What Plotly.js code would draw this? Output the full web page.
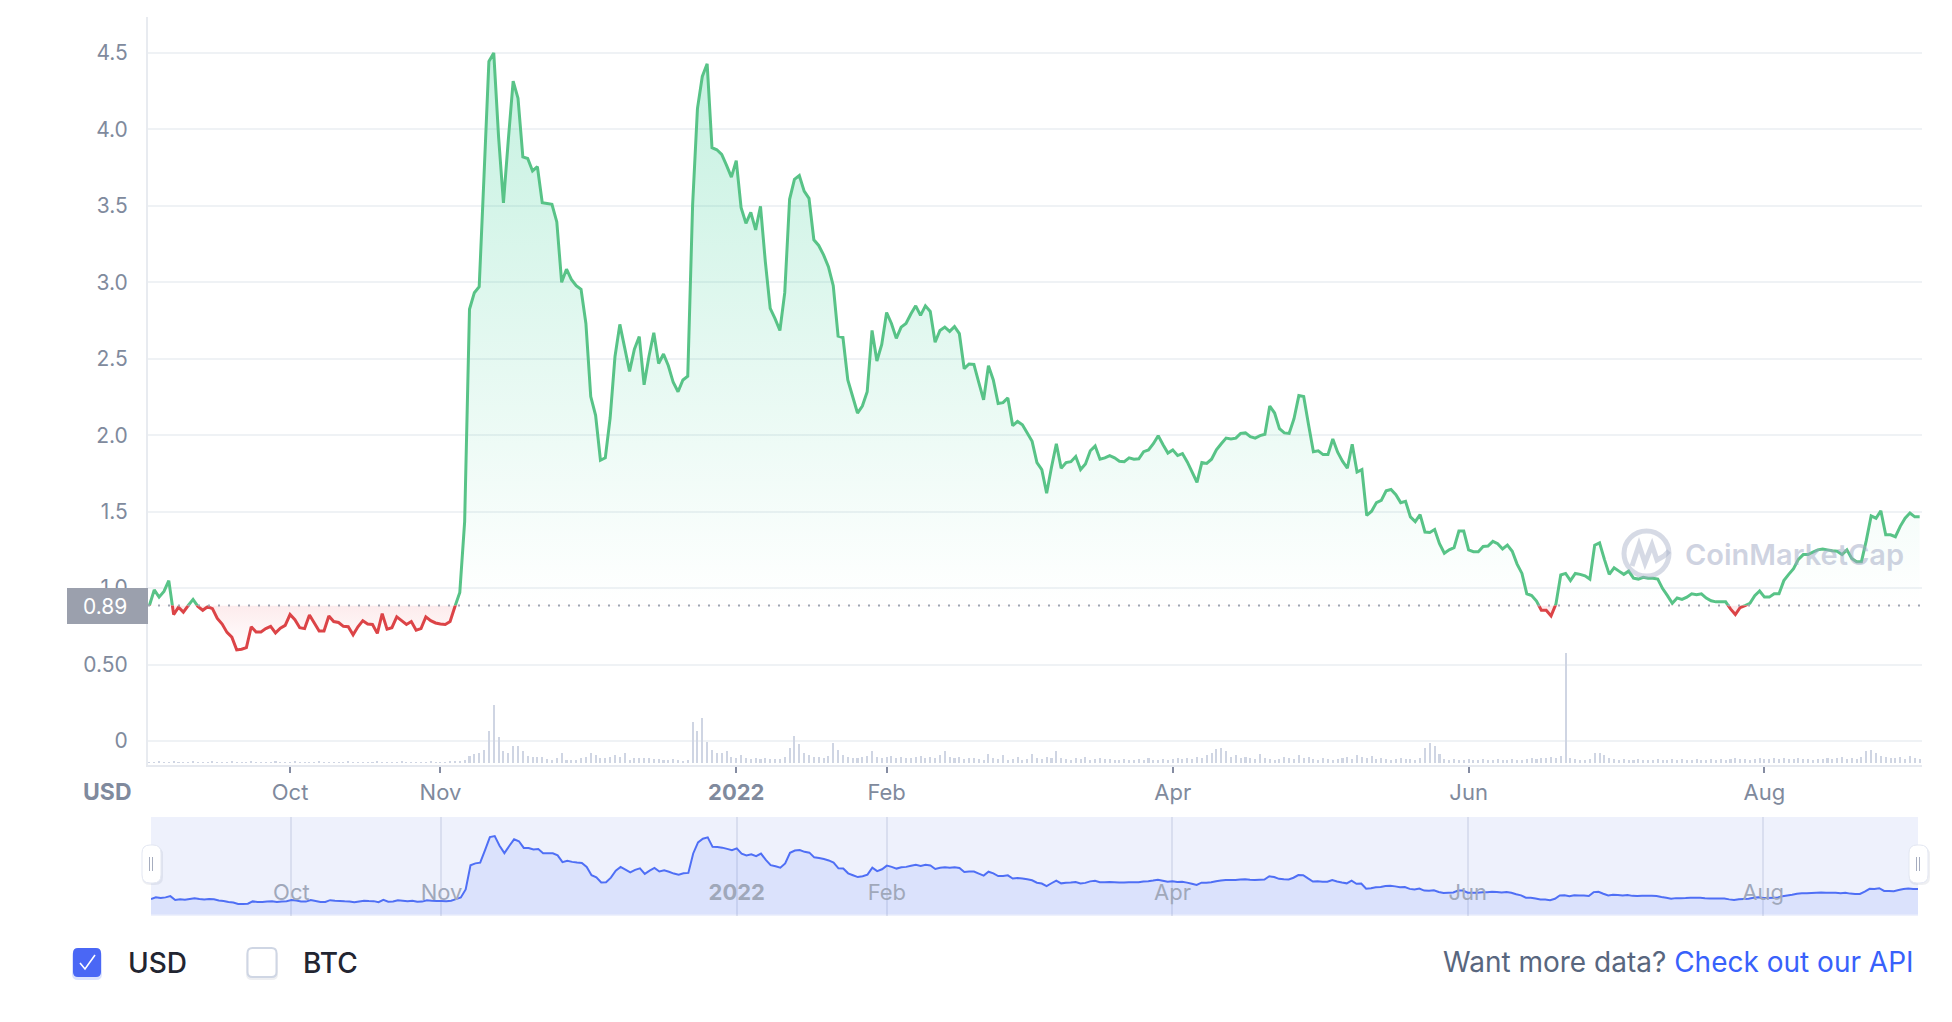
<!DOCTYPE html>
<html>
<head>
<meta charset="utf-8">
<script src="https://cdn.plot.ly/plotly-3.0.1.min.js"></script>
<style>
  html, body { margin: 0; padding: 0; background: #ffffff; }
  #chart { width: 1952px; height: 1022px; }
</style>
</head>
<body>
<div id="chart"></div>
<script>
// ---------------- DATA ----------------
const startDate = '2021-09-02';           // first daily point
const currency = 'USD';

// daily close price in USD, 2021-09-02 .. 2022-09-02
const priceUSD = [
  0.886,0.988,0.941,0.978,1.049,0.827,0.875,0.843,0.886,0.926,
  0.880,0.855,0.878,0.866,0.802,0.765,0.710,0.679,0.596,0.600,
  0.611,0.747,0.713,0.713,0.735,0.750,0.707,0.738,0.756,0.827,
  0.793,0.741,0.735,0.824,0.772,0.719,0.719,0.818,0.781,0.775,
  0.750,0.747,0.694,0.747,0.787,0.765,0.762,0.704,0.833,0.732,
  0.741,0.812,0.787,0.762,0.781,0.725,0.735,0.812,0.787,0.772,
  0.765,0.762,0.781,0.880,0.972,1.435,2.824,2.932,2.972,3.700,
  4.444,4.500,3.950,3.520,3.930,4.315,4.204,3.820,3.810,3.728,
  3.756,3.520,3.515,3.510,3.395,3.000,3.086,3.019,2.978,2.954,
  2.731,2.253,2.130,1.836,1.852,2.114,2.515,2.725,2.571,2.417,
  2.562,2.645,2.330,2.515,2.670,2.469,2.531,2.454,2.346,2.284,
  2.361,2.386,3.503,4.136,4.346,4.429,3.880,3.867,3.836,3.765,
  3.688,3.796,3.488,3.386,3.457,3.343,3.497,3.133,2.830,2.762,
  2.685,2.932,3.543,3.673,3.698,3.596,3.549,3.278,3.241,3.179,
  3.102,2.978,2.648,2.639,2.361,2.253,2.145,2.191,2.284,2.685,
  2.485,2.593,2.802,2.731,2.633,2.707,2.731,2.793,2.846,2.784,
  2.846,2.809,2.608,2.685,2.707,2.679,2.710,2.664,2.435,2.466,
  2.463,2.346,2.231,2.454,2.361,2.207,2.213,2.244,2.062,2.090,
  2.068,2.015,1.960,1.821,1.775,1.620,1.790,1.944,1.784,1.821,
  1.827,1.861,1.775,1.812,1.898,1.929,1.843,1.852,1.867,1.852,
  1.830,1.827,1.852,1.843,1.846,1.892,1.904,1.944,1.997,1.938,
  1.883,1.904,1.867,1.880,1.825,1.759,1.691,1.821,1.815,1.843,
  1.904,1.944,1.981,1.975,1.981,2.012,2.015,1.991,1.981,1.997,
  2.006,2.191,2.145,2.043,2.015,2.012,2.108,2.259,2.253,2.068,
  1.892,1.898,1.873,1.873,1.975,1.889,1.830,1.784,1.941,1.759,
  1.775,1.475,1.503,1.559,1.574,1.636,1.645,1.611,1.559,1.568,
  1.466,1.435,1.481,1.367,1.364,1.383,1.290,1.228,1.250,1.265,
  1.373,1.373,1.250,1.238,1.238,1.272,1.275,1.306,1.290,1.256,
  1.281,1.241,1.157,1.096,0.963,0.951,0.915,0.855,0.855,0.818,
  0.895,1.086,1.096,1.049,1.096,1.090,1.080,1.059,1.281,1.296,
  1.188,1.090,1.133,1.111,1.090,1.111,1.065,1.059,1.071,1.065,
  1.065,1.059,0.997,0.951,0.901,0.935,0.926,0.941,0.963,0.957,
  0.963,0.935,0.917,0.910,0.910,0.910,0.864,0.827,0.873,0.886,
  0.901,0.951,0.981,0.941,0.941,0.963,0.963,1.049,1.090,1.127,
  1.188,1.219,1.219,1.235,1.250,1.256,1.250,1.244,1.241,1.219,
  1.250,1.194,1.173,1.173,1.312,1.472,1.457,1.506,1.349,1.349,
  1.336,1.404,1.457,1.491,1.466,1.466
];

// daily traded volume (relative units)
const volume = [
  1.5,1.5,2,1.5,1.5,2,1.5,1.5,1.5,2,
  1.5,1.5,1.5,2,1.5,1.5,1.5,2,1.5,1.5,
  1.5,2,1.5,1.5,1.5,1.5,2,1.5,1.5,1.5,
  2,1.5,1.5,1.5,1.5,2,1.5,1.5,1.5,1.5,
  1.5,2,1.5,1.5,1.5,1.5,1.5,2,1.5,1.5,
  1.5,1.5,2,1.5,1.5,1.5,1.5,1.5,2,1.5,
  1.5,1.5,2,2,2.5,3.3,6.7,9,10,13,
  32,58,26,11.7,9.7,16.7,17,11.7,7,6,
  6,5.7,3.7,3.3,4.7,9.7,3.3,3.3,3.3,4.7,
  6,9.7,8,4.7,4.7,5.7,8,6,10,3.3,
  4.7,4.7,5.3,5,4,4,3.3,3.3,4,3.3,
  2,3,41,32,45,21,13,10,10,12,
  6,5,8,5,4,5,4,5,4,4,
  4,6,15,27,19,10,8,6,6,5,
  7,20,13,8,6,5,5,6,7,12,
  6,5,6,7,5,6,5,5,6,7,
  5,6,5,8,12,6,5,6,4,5,
  5,4,3,9,5,4,8,3,4,6,
  3,4,9,5,4,6,5,12,5,4,
  3,5,4,6,3,4,5,4,4,3,
  3,4,3,3,4,3,5,3,3,4,
  3,4,5,4,5,4,6,5,8,10,
  14,15,12,6,8,5,6,5,4,9,
  5,4,3,4,6,5,4,8,5,6,
  4,3,5,4,3,4,5,6,4,8,
  6,5,7,4,5,4,3,4,5,4,
  4,3,5,15,20,17,9,4,3,4,
  3,3,4,3,3,4,3,3,4,3,
  3,4,3,3,4,5,4,5,5,6,
  5,7,110,5,4,3,3,4,10,10,
  8,5,4,3,4,3,3,4,3,3,
  3,4,3,3,4,3,4,3,3,4,
  3,3,4,3,4,3,4,5,4,4,
  3,4,5,4,4,5,4,5,4,4,
  5,4,4,3,4,4,5,4,5,6,
  4,5,4,6,12,13,10,7,6,5,
  5,6,4,7,5,4
];

// axis ticks
const monthTickDates  = ['2021-10-01','2021-11-01','2022-01-01','2022-02-01','2022-04-01','2022-06-01','2022-08-01'];
const monthTickLabels = ['Oct','Nov','<b>2022</b>','Feb','Apr','Jun','Aug'];
const priceTickValues = [0, 0.5, 1.0, 1.5, 2.0, 2.5, 3.0, 3.5, 4.0, 4.5];
const priceTickLabels = ['0','0.50','1.0','1.5','2.0','2.5','3.0','3.5','4.0','4.5'];

// ---------------- LAYOUT HELPERS (pixel geometry) ----------------
const W = 1952, H = 1022;
const px = x => x / W;
const py = y => 1 - y / H;
const DAY = 86400000;
const fmt = ms => new Date(ms).toISOString().replace('T', ' ').replace('Z', '');

const startMs = Date.parse(startDate + 'T00:00:00Z');
const dates = priceUSD.map((_, i) => fmt(startMs + i * DAY).slice(0, 10));

// main plot pixel frame
const PLOT_L = 148, PLOT_R = 1922, PLOT_T = 17, PLOT_B = 765;
const Y0_PX = 741, PX_PER_UNIT = 152.9;          // position of value 0 and scale
const pxToVal = p => (Y0_PX - p) / PX_PER_UNIT;
const valToPx = v => Y0_PX - v * PX_PER_UNIT;
const PX_PER_DAY = 4.85;
const FIRST_PT_PX = 149.4;

const base = priceUSD[0];                       // baseline = opening price
const basePx = valToPx(base);
const lastMs = startMs + (priceUSD.length - 1) * DAY;
const xRange = [fmt(startMs - (FIRST_PT_PX - PLOT_L) / PX_PER_DAY * DAY),
                fmt(lastMs + (PLOT_R - (FIRST_PT_PX + (priceUSD.length - 1) * PX_PER_DAY)) / PX_PER_DAY * DAY)];

// navigator frame
const NAV_L = 151, NAV_R = 1918, NAV_T = 817, NAV_B = 916;
const NAV_ZERO = 914.4, NAV_PX_PER_UNIT = 17.4;

const FONT = 'Inter, "Noto Sans", "DejaVu Sans", sans-serif';
const GREEN = '#58c387', RED = '#dc4447';

function roundRect(x0, y0, x1, y1, r) {
  const P = (x, y) => px(x) + ',' + py(y);
  return 'M' + P(x0 + r, y0) + ' L' + P(x1 - r, y0) + ' Q' + P(x1, y0) + ' ' + P(x1, y0 + r) +
         ' L' + P(x1, y1 - r) + ' Q' + P(x1, y1) + ' ' + P(x1 - r, y1) +
         ' L' + P(x0 + r, y1) + ' Q' + P(x0, y1) + ' ' + P(x0, y1 - r) +
         ' L' + P(x0, y0 + r) + ' Q' + P(x0, y0) + ' ' + P(x0 + r, y0) + ' Z';
}
function polyPath(pts) {
  return 'M' + pts.map(p => px(p[0]) + ',' + py(p[1])).join(' L');
}

// ---------------- TRACES ----------------
const traces = [
  { // volume bars
    type: 'bar', x: dates, y: volume, xaxis: 'x', yaxis: 'y4',
    marker: { color: '#cfd5e3' }, width: 0.42 * DAY, hoverinfo: 'skip', showlegend: false
  },
  { // price above baseline (clipped to upper band)
    type: 'scatter', mode: 'lines', x: dates, y: priceUSD, xaxis: 'x', yaxis: 'y2',
    line: { color: GREEN, width: 3, simplify: false },
    fill: 'tozeroy',
    fillgradient: { type: 'vertical', start: base, stop: 4.5,
      colorscale: [[0, 'rgba(22,199,132,0.0)'], [1, 'rgba(22,199,132,0.25)']] },
    hoverinfo: 'skip', showlegend: false
  },
  { // baseline helper for the lower band
    type: 'scatter', mode: 'lines', x: dates, y: dates.map(() => base), xaxis: 'x', yaxis: 'y3',
    line: { width: 0, color: 'rgba(0,0,0,0)' }, hoverinfo: 'skip', showlegend: false
  },
  { // price below baseline (clipped to lower band)
    type: 'scatter', mode: 'lines', x: dates, y: priceUSD, xaxis: 'x', yaxis: 'y3',
    line: { color: RED, width: 3, simplify: false },
    fill: 'tonexty',
    fillgradient: { type: 'vertical', start: 0.6, stop: base,
      colorscale: [[0, 'rgba(234,57,67,0.0)'], [1, 'rgba(234,57,67,0.10)']] },
    hoverinfo: 'skip', showlegend: false
  },
  { // navigator
    type: 'scatter', mode: 'lines', x: dates, y: priceUSD, xaxis: 'x2', yaxis: 'y5',
    line: { color: '#4f6ff5', width: 2, simplify: false },
    fill: 'tozeroy', fillcolor: 'rgba(56,97,251,0.10)',
    hoverinfo: 'skip', showlegend: false
  }
];

// ---------------- SHAPES ----------------
const shapes = [
  // navigator background
  { type: 'rect', xref: 'paper', yref: 'paper', layer: 'below',
    x0: px(NAV_L), x1: px(NAV_R), y0: py(NAV_B), y1: py(NAV_T),
    fillcolor: '#eef1fc', line: { width: 0 } },
  // dotted baseline
  { type: 'line', xref: 'paper', yref: 'y', x0: px(PLOT_L), x1: px(PLOT_R), y0: base, y1: base,
    line: { color: '#a0a6b3', width: 2, dash: '2px,8px' }, layer: 'above' },
  // baseline label box
  { type: 'rect', xref: 'paper', yref: 'paper', layer: 'above',
    x0: px(67), x1: px(148), y0: py(624), y1: py(588), fillcolor: '#9ba0ad', line: { width: 0 } },
  // watermark logo
  { type: 'circle', xref: 'paper', yref: 'paper', layer: 'above',
    x0: px(1624), x1: px(1669), y0: py(576), y1: py(531),
    line: { color: 'rgba(165,173,198,0.45)', width: 5 }, fillcolor: 'rgba(0,0,0,0)' },
  { type: 'path', xref: 'paper', yref: 'paper', layer: 'above',
    path: polyPath([[1632, 566], [1639, 545], [1645, 563], [1652, 545], [1657, 560], [1664, 556], [1669, 551]]),
    line: { color: 'rgba(165,173,198,0.45)', width: 5 } },
  // navigator handles
  { type: 'path', xref: 'paper', yref: 'paper', layer: 'above', path: roundRect(142, 847, 163, 885, 8),
    fillcolor: 'rgba(88,102,126,0.10)', line: { width: 0 } },
  { type: 'path', xref: 'paper', yref: 'paper', layer: 'above', path: roundRect(142, 845, 161, 883, 8),
    fillcolor: '#ffffff', line: { color: '#e3e7f2', width: 1 } },
  { type: 'line', xref: 'paper', yref: 'paper', layer: 'above', x0: px(149.5), x1: px(149.5), y0: py(857), y1: py(871),
    line: { color: '#a6adbf', width: 1 } },
  { type: 'line', xref: 'paper', yref: 'paper', layer: 'above', x0: px(152.5), x1: px(152.5), y0: py(857), y1: py(871),
    line: { color: '#a6adbf', width: 1 } },
  { type: 'path', xref: 'paper', yref: 'paper', layer: 'above', path: roundRect(1909, 847, 1930, 885, 8),
    fillcolor: 'rgba(88,102,126,0.10)', line: { width: 0 } },
  { type: 'path', xref: 'paper', yref: 'paper', layer: 'above', path: roundRect(1909, 845, 1928, 883, 8),
    fillcolor: '#ffffff', line: { color: '#e3e7f2', width: 1 } },
  { type: 'line', xref: 'paper', yref: 'paper', layer: 'above', x0: px(1916.5), x1: px(1916.5), y0: py(857), y1: py(871),
    line: { color: '#a6adbf', width: 1 } },
  { type: 'line', xref: 'paper', yref: 'paper', layer: 'above', x0: px(1919.5), x1: px(1919.5), y0: py(857), y1: py(871),
    line: { color: '#a6adbf', width: 1 } },
  // USD checkbox (checked)
  { type: 'path', xref: 'paper', yref: 'paper', layer: 'above', path: roundRect(72, 950, 102, 980, 6),
    fillcolor: 'rgba(56,97,251,0.18)', line: { width: 0 } },
  { type: 'path', xref: 'paper', yref: 'paper', layer: 'above', path: roundRect(73, 948, 101, 977, 5),
    fillcolor: '#4a67f5', line: { width: 0 } },
  { type: 'path', xref: 'paper', yref: 'paper', layer: 'above',
    path: polyPath([[80, 963], [85, 969], [95, 955]]), line: { color: '#ffffff', width: 1.6 } },
  // BTC checkbox (empty)
  { type: 'path', xref: 'paper', yref: 'paper', layer: 'above', path: roundRect(246, 950, 278, 980, 6),
    fillcolor: 'rgba(88,102,126,0.10)', line: { width: 0 } },
  { type: 'path', xref: 'paper', yref: 'paper', layer: 'above', path: roundRect(247.5, 948, 276.5, 977, 5),
    fillcolor: '#ffffff', line: { color: '#cfd6e4', width: 2 } }
];

// ---------------- ANNOTATIONS ----------------
const annotations = [
  { text: base.toFixed(2), xref: 'paper', yref: 'paper', x: px(129), y: py(606), xanchor: 'right', yanchor: 'middle',
    showarrow: false, font: { family: FONT, size: 21, color: '#ffffff' } },
  { text: '<b>' + currency + '</b>', xref: 'paper', yref: 'paper', x: px(107), y: py(792), xanchor: 'center', yanchor: 'middle',
    showarrow: false, font: { family: FONT, size: 23, color: '#808a9d' } },
  { text: 'CoinMarketCap', xref: 'paper', yref: 'paper', x: px(1794), y: py(554), xanchor: 'center', yanchor: 'middle',
    showarrow: false, font: { family: FONT, size: 29, color: 'rgba(160,168,195,0.5)', weight: 600 } },
  { text: 'USD', xref: 'paper', yref: 'paper', x: px(126), y: py(963), xanchor: 'left', yanchor: 'middle',
    showarrow: false, font: { family: FONT, size: 28, color: '#222531', weight: 500 } },
  { text: 'BTC', xref: 'paper', yref: 'paper', x: px(301), y: py(963), xanchor: 'left', yanchor: 'middle',
    showarrow: false, font: { family: FONT, size: 28, color: '#222531', weight: 500 } },
  { text: 'Want more data? <span style="color:#3861fb">Check out our API</span>', xref: 'paper', yref: 'paper',
    x: px(1916), y: py(962), xanchor: 'right', yanchor: 'middle',
    showarrow: false, font: { family: FONT, size: 28, color: '#58667e' } }
];

// ---------------- LAYOUT ----------------
const layout = {
  width: W, height: H,
  margin: { l: 0, r: 0, t: 0, b: 0, pad: 0 },
  paper_bgcolor: '#ffffff', plot_bgcolor: 'rgba(0,0,0,0)',
  font: { family: FONT, color: '#808a9d' },
  showlegend: false,
  xaxis: {
    type: 'date', domain: [px(PLOT_L), px(PLOT_R)], range: xRange, anchor: 'y',
    tickmode: 'array', tickvals: monthTickDates, ticktext: monthTickLabels,
    ticks: 'outside', ticklen: 6, tickwidth: 2, tickcolor: '#858ca2',
    ticklabelstandoff: 1,
    showgrid: false, zeroline: false, showline: true, linecolor: '#e6e9ef', linewidth: 2,
    tickfont: { family: FONT, size: 22, color: '#808a9d' }, fixedrange: true
  },
  yaxis: {
    domain: [py(PLOT_B), py(PLOT_T)], range: [pxToVal(PLOT_B), pxToVal(PLOT_T)], anchor: 'x',
    tickmode: 'array', tickvals: priceTickValues, ticktext: priceTickLabels,
    ticks: '', ticklabelstandoff: 14,
    showgrid: true, gridcolor: '#eff2f5', gridwidth: 2, zeroline: false,
    showline: true, linecolor: '#e8ebf0', linewidth: 2,
    tickfont: { family: FONT, size: 21, color: '#808a9d' }, fixedrange: true
  },
  yaxis2: {
    domain: [py(basePx), py(PLOT_T)], range: [base, pxToVal(PLOT_T)], anchor: 'x',
    showgrid: false, zeroline: false, showline: false, showticklabels: false, ticks: '', fixedrange: true
  },
  yaxis3: {
    domain: [py(PLOT_B), py(basePx)], range: [pxToVal(PLOT_B), base], anchor: 'x',
    showgrid: false, zeroline: false, showline: false, showticklabels: false, ticks: '', fixedrange: true
  },
  yaxis4: {
    domain: [py(PLOT_B), py(600)], range: [-2, 163], anchor: 'x',
    showgrid: false, zeroline: false, showline: false, showticklabels: false, ticks: '', fixedrange: true
  },
  xaxis2: {
    type: 'date', domain: [px(NAV_L), px(NAV_R)], range: [dates[0], dates[dates.length - 1]], anchor: 'y5',
    tickmode: 'array', tickvals: monthTickDates, ticktext: monthTickLabels,
    ticks: '', ticklabelposition: 'inside', ticklabelstandoff: 9,
    showgrid: true, gridcolor: '#d9deef', gridwidth: 2, zeroline: false, showline: false,
    tickfont: { family: FONT, size: 22, color: '#a0a8ba' }, fixedrange: true
  },
  yaxis5: {
    domain: [py(NAV_B), py(NAV_T)],
    range: [(NAV_ZERO - NAV_B) / NAV_PX_PER_UNIT, (NAV_ZERO - NAV_T) / NAV_PX_PER_UNIT], anchor: 'x2',
    showgrid: false, zeroline: false, showline: false, showticklabels: false, ticks: '', fixedrange: true
  },
  bargap: 0,
  shapes: shapes,
  annotations: annotations
};

Plotly.newPlot('chart', traces, layout, { staticPlot: true, displayModeBar: false });
</script>
</body>
</html>
